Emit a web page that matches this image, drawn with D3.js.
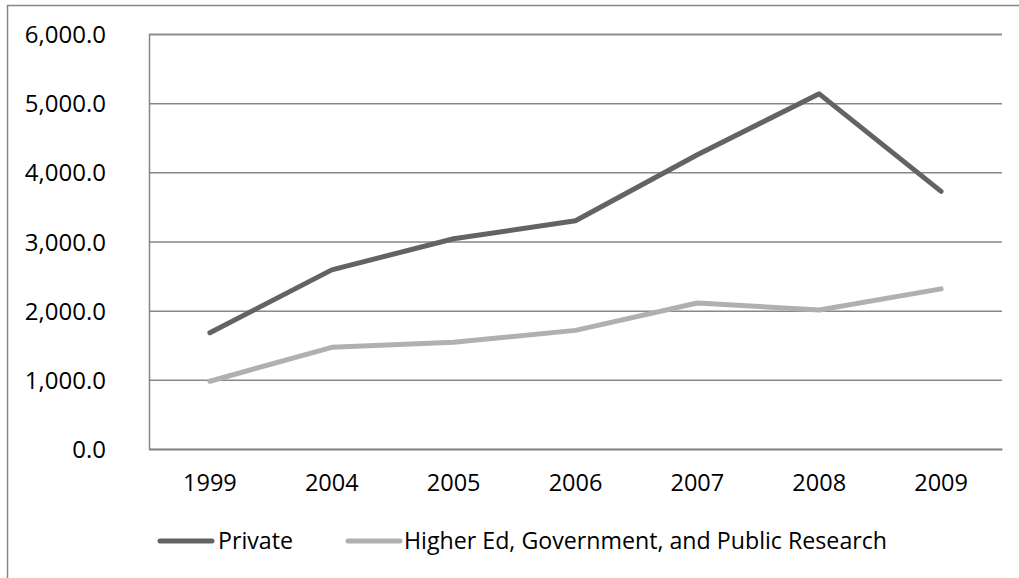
<!DOCTYPE html>
<html>
<head>
<meta charset="utf-8">
<script src="https://cdn.jsdelivr.net/npm/d3@7"></script>
<style>
  html, body { margin: 0; padding: 0; background: #fff; }
  svg { display: block; }
  text { font-family: "Open Sans", "Liberation Sans", sans-serif; fill: #000; }
</style>
</head>
<body>
<svg id="chart" width="1019" height="578"></svg>
<script>
// R&D spending by sector
const years = ["1999", "2004", "2005", "2006", "2007", "2008", "2009"];
const privateValues = [1680, 2590, 3040, 3300, 4255, 5135, 3725];
const publicValues = [980, 1470, 1545, 1715, 2110, 2010, 2315];
const yTicks = [0, 1000, 2000, 3000, 4000, 5000, 6000];
const seriesNames = ["Private", "Higher Ed, Government, and Public Research"];
const seriesColors = ["#636363", "#b0b0b0"];

const svg = d3.select("#chart");
const W = 1019, H = 578;
const plot = { left: 149, right: 1002, top: 34, bottom: 449 };
const axisGray = "#878787";

// outer frame (runs off the right and bottom edges)
svg.append("rect")
  .attr("x", 7.5).attr("y", 5.5)
  .attr("width", W + 10).attr("height", H + 10)
  .attr("fill", "none").attr("stroke", axisGray).attr("stroke-width", 1.5);

const x = d3.scaleBand().domain(years).range([plot.left, plot.right]);
const y = d3.scaleLinear().domain([0, 6000]).range([plot.bottom, plot.top]);
const fmt = d3.format(",.1f");

// horizontal gridlines and value labels
const yAxis = d3.axisLeft(y).tickValues(yTicks).tickFormat(fmt)
  .tickSize(-(plot.right - plot.left)).tickPadding(43);
const gy = svg.append("g").attr("transform", `translate(${plot.left},0)`).call(yAxis);
gy.select(".domain").attr("stroke", axisGray).attr("stroke-width", 1.5);
gy.selectAll(".tick line").attr("stroke", axisGray).attr("stroke-width", 1.5);
gy.selectAll(".tick text").attr("font-size", 24).attr("dy", "0.36em")
  .style("font-family", '"Open Sans", sans-serif').attr("fill", "#000");

// category axis
const xAxis = d3.axisBottom(x).tickSize(0).tickPadding(25);
const gx = svg.append("g").attr("transform", `translate(0,${plot.bottom})`).call(xAxis);
gx.select(".domain").attr("stroke", axisGray).attr("stroke-width", 1.5);
gx.selectAll(".tick text").attr("font-size", 23.5)
  .style("font-family", '"Open Sans", sans-serif').attr("fill", "#000");

// series lines
const cx = d => x(d) + x.bandwidth() / 2;
const line = d3.line().x((d, i) => cx(years[i])).y(d => y(d));
[privateValues, publicValues].forEach((vals, i) => {
  svg.append("path")
    .datum(vals)
    .attr("d", line)
    .attr("fill", "none")
    .attr("stroke", seriesColors[i])
    .attr("stroke-width", 5)
    .attr("stroke-linecap", "round")
    .attr("stroke-linejoin", "round");
});

// legend
const legendY = 541;
const legendItems = [{ x0: 160, x1: 212, tx: 218 }, { x0: 348, x1: 400, tx: 404 }];
legendItems.forEach((it, i) => {
  svg.append("line")
    .attr("x1", it.x0).attr("x2", it.x1)
    .attr("y1", legendY).attr("y2", legendY)
    .attr("stroke", seriesColors[i]).attr("stroke-width", 5)
    .attr("stroke-linecap", "round");
  svg.append("text")
    .attr("x", it.tx).attr("y", legendY)
    .attr("dy", "0.36em")
    .attr("font-size", 23.2)
    .text(seriesNames[i]);
});
</script>
</body>
</html>
